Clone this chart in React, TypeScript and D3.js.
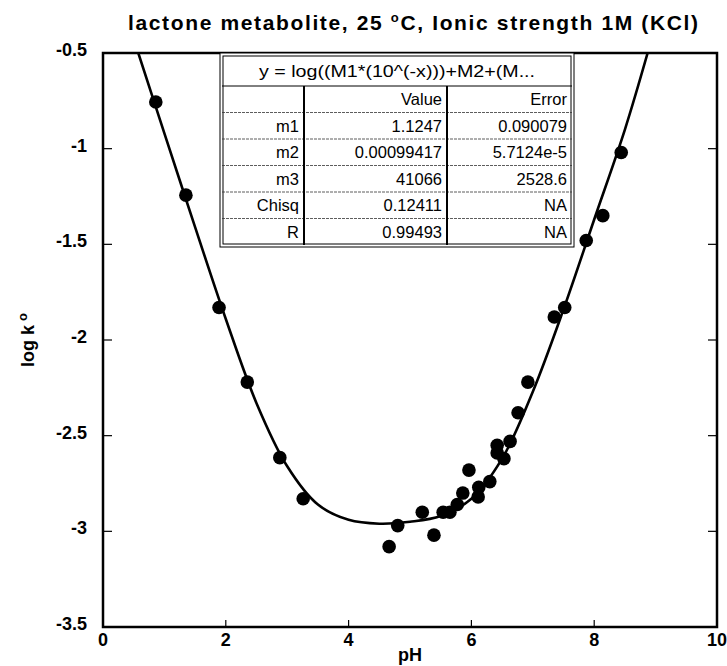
import React from "react";
import * as d3 from "d3";

// measured points: pH vs log k(o)
const phValues = [
  0.86, 1.35, 1.89, 2.35, 2.88, 3.26, 4.66, 4.8, 5.2, 5.39, 5.54, 5.65, 5.77,
  5.86, 5.96, 6.11, 6.12, 6.3, 6.42, 6.42, 6.53, 6.63, 6.76, 6.92, 7.35, 7.52,
  7.87, 8.14, 8.44,
];
const logkValues = [
  -0.756, -1.243, -1.83, -2.22, -2.615, -2.83, -3.08, -2.97, -2.9, -3.02, -2.9,
  -2.9, -2.86, -2.8, -2.68, -2.82, -2.77, -2.74, -2.55, -2.59, -2.62, -2.53,
  -2.38, -2.22, -1.88, -1.83, -1.48, -1.35, -1.02,
];

// fitted curve
const fitPh = [
  0.575, 1.0, 1.5, 2.0, 2.5, 3.0, 3.5, 4.0, 4.5, 5.0, 5.5, 6.0, 6.5, 7.0, 7.5,
  8.0, 8.5, 8.87,
];
const fitLogk = [
  -0.5, -0.92, -1.41, -1.89, -2.33, -2.66, -2.86, -2.94, -2.96, -2.95, -2.92,
  -2.83, -2.62, -2.27, -1.84, -1.37, -0.9, -0.5,
];

const xTicks = [0, 2, 4, 6, 8, 10];
const yTicks = [-0.5, -1, -1.5, -2, -2.5, -3, -3.5];

const tableTitle = "y = log((M1*(10^(-x)))+M2+(M...";
const tableCols = ["", "Value", "Error"];
const paramNames = ["m1", "m2", "m3", "Chisq", "R"];
const paramValues = ["1.1247", "0.00099417", "41066", "0.12411", "0.99493"];
const paramErrors = ["0.090079", "5.7124e-5", "2528.6", "NA", "NA"];

const W = 727;
const H = 666;
const left = 103;
const right = 717;
const top = 53;
const bottom = 627;
const font = "'Liberation Sans', Arial, sans-serif";

export default function App() {
  const x = d3.scaleLinear().domain([0, 10]).range([left, right]);
  const y = d3.scaleLinear().domain([-3.5, -0.5]).range([bottom, top]);

  const line = d3
    .line<number>()
    .x((d, i) => x(fitPh[i]))
    .y((d) => y(d))
    .curve(d3.curveCatmullRom.alpha(0.5));

  // table layout
  const tL = 222;
  const tR = 572;
  const tT = 55;
  const headH = 31;
  const rowH = 26.5;
  const colX = [tL, 304, 447, tR];
  const tB = tT + headH + rowH * (paramNames.length + 1);
  const rowTop = (i: number) => tT + headH + rowH * i;
  const fs = 16.5;

  return (
    <svg
      width={W}
      height={H}
      style={{ position: "absolute", left: 0, top: 0, background: "#fff" }}
      fontFamily={font}
    >
      <defs>
        <clipPath id="plot">
          <rect x={left} y={top} width={right - left} height={bottom - top} />
        </clipPath>
      </defs>

      {/* title */}
      <text
        x={413}
        y={30}
        textAnchor="middle"
        fontSize={21}
        fontWeight="bold"
        textLength={570}
        lengthAdjust="spacing"
      >
        lactone metabolite, 25{" "}
        <tspan fontSize={13} dy={-8}>o</tspan>
        <tspan dy={8}>C, Ionic strength 1M (KCl)</tspan>
      </text>

      {/* frame */}
      <rect
        x={left}
        y={top}
        width={right - left}
        height={bottom - top}
        fill="none"
        stroke="#000"
        strokeWidth={2.5}
      />

      {/* ticks */}
      {xTicks.slice(1, -1).map((t) => (
        <line key={"xt" + t} x1={x(t)} x2={x(t)} y1={bottom} y2={bottom - 7} stroke="#000" strokeWidth={1.2} />
      ))}
      {yTicks.slice(1, -1).map((t) => (
        <g key={"yt" + t}>
          <line x1={left} x2={left + 9} y1={y(t)} y2={y(t)} stroke="#000" strokeWidth={1.2} />
          <line x1={right} x2={right - 9} y1={y(t)} y2={y(t)} stroke="#000" strokeWidth={1.2} />
        </g>
      ))}

      {/* tick labels */}
      {xTicks.map((t) => (
        <text key={"xl" + t} x={x(t)} y={bottom + 19} textAnchor="middle" fontSize={18} fontWeight="bold">
          {t}
        </text>
      ))}
      {yTicks.map((t) => (
        <text key={"yl" + t} x={left - 16} y={y(t) + 3} textAnchor="end" fontSize={18} fontWeight="bold">
          {t}
        </text>
      ))}

      {/* axis titles */}
      <text x={x(5)} y={bottom + 34} textAnchor="middle" fontSize={18} fontWeight="bold">
        pH
      </text>
      <text
        transform={`translate(34, ${y(-2)}) rotate(-90)`}
        textAnchor="middle"
        fontSize={18}
        fontWeight="bold"
      >
        log k
        <tspan fontSize={13} dx={4} dy={-7}>o</tspan>
      </text>

      {/* fit curve */}
      <path d={line(fitLogk) || ""} fill="none" stroke="#000" strokeWidth={2.6} clipPath="url(#plot)" />

      {/* data points */}
      {phValues.map((p, i) => (
        <circle key={"pt" + i} cx={x(p)} cy={y(logkValues[i])} r={6.8} fill="#000" />
      ))}

      {/* fit table */}
      <g>
        <rect x={tL - 2} y={tT - 2} width={tR - tL + 4} height={tB - tT + 4} fill="#fff" stroke="#000" strokeWidth={1} />
        <rect x={tL + 1} y={tT + 1} width={tR - tL - 2} height={tB - tT - 2} fill="none" stroke="#000" strokeWidth={1} />
        <line x1={tL} x2={tR} y1={tT + headH} y2={tT + headH} stroke="#000" strokeWidth={1} />
        {d3.range(1, paramNames.length + 1).map((i) => (
          <line key={"rl" + i} x1={tL} x2={tR} y1={rowTop(i)} y2={rowTop(i)} stroke="#333" strokeWidth={0.8} strokeDasharray="3,1" />
        ))}
        {colX.slice(1, -1).map((cx) => (
          <line key={"cl" + cx} x1={cx} x2={cx} y1={tT + headH} y2={tB} stroke="#000" strokeWidth={2} />
        ))}
        <text x={(tL + tR) / 2} y={tT + 22} textAnchor="middle" fontSize={fs} textLength={276} lengthAdjust="spacingAndGlyphs">
          {tableTitle}
        </text>
        {tableCols.map((c, j) => (
          <text key={"hc" + j} x={colX[j + 1] - 5} y={rowTop(0) + 19} textAnchor="end" fontSize={fs}>
            {c}
          </text>
        ))}
        {paramNames.map((n, i) => (
          <g key={"row" + n}>
            <text x={colX[1] - 5} y={rowTop(i + 1) + 19} textAnchor="end" fontSize={fs}>
              {n}
            </text>
            <text x={colX[2] - 5} y={rowTop(i + 1) + 19} textAnchor="end" fontSize={fs}>
              {paramValues[i]}
            </text>
            <text x={colX[3] - 5} y={rowTop(i + 1) + 19} textAnchor="end" fontSize={fs}>
              {paramErrors[i]}
            </text>
          </g>
        ))}
      </g>
    </svg>
  );
}
